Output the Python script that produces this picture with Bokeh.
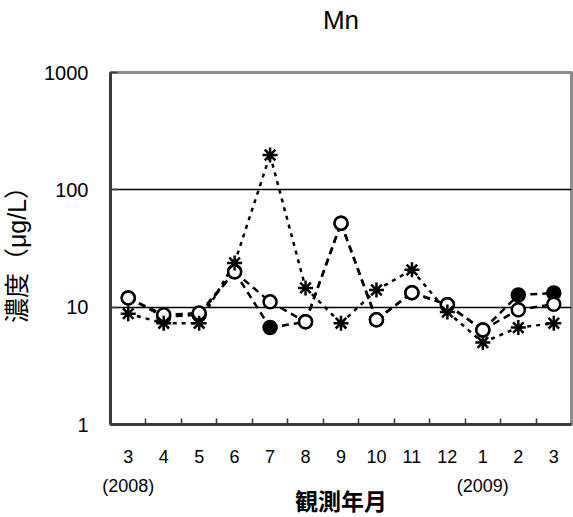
from bokeh.plotting import figure
from bokeh.models import Range1d, FixedTicker, LinearAxis
from bokeh.embed import file_html
from bokeh.resources import INLINE

# Observation months, March 2008 to March 2009
months = ["3", "4", "5", "6", "7", "8", "9", "10", "11", "12", "1", "2", "3"]
positions = list(range(1, len(months) + 1))
year_notes = {1: "(2008)", 11: "(2009)"}

# Mn concentration (µg/L) for the three monitoring series
mn_filled = [12.0, 8.3, 8.6, 20.0, 6.7, 7.5, 52.0, 7.8, 13.3, 10.5, 6.4, 12.7, 13.2]
mn_open = [12.0, 8.6, 8.9, 20.0, 11.1, 7.5, 52.0, 7.8, 13.3, 10.5, 6.4, 9.5, 10.6]
mn_star = [8.8, 7.3, 7.3, 23.8, 198.0, 14.6, 7.3, 14.0, 20.8, 9.1, 5.0, 6.7, 7.3]

y_ticks = [1, 10, 100, 1000]

LATIN = "Liberation Sans"
MIXED = "Liberation Sans, Noto Sans CJK JP"

p = figure(
    width=573, height=517,
    y_axis_type="log",
    x_range=Range1d(0.5, len(months) + 0.5),
    y_range=Range1d(1, 1000),
    output_backend="svg", toolbar_location=None,
    min_border_left=107, min_border_right=2,
    min_border_top=72, min_border_bottom=92,
)
p.background_fill_color = "white"
p.border_fill_color = "white"
p.outline_line_color = "#8c8c8c"
p.outline_line_width = 3

# the figure's own bottom axis carries the months
xa = p.below[0]

# chart heading, set as the label of a bare axis along the top edge
heading = LinearAxis(
    ticker=FixedTicker(ticks=[]),
    axis_line_color=None,
    major_tick_line_color=None, minor_tick_line_color=None,
    major_tick_in=0, major_tick_out=0, minor_tick_in=0, minor_tick_out=0,
    major_label_standoff=0,
    axis_label="Mn",
    axis_label_text_font=LATIN,
    axis_label_text_font_size="26px",
    axis_label_text_font_style="normal",
    axis_label_text_color="black",
    axis_label_standoff=38,
)
p.add_layout(heading, "above")

# grid lines only at 10 and 100
p.xgrid.visible = False
p.ygrid.ticker = FixedTicker(ticks=[10, 100])
p.ygrid.grid_line_color = "black"
p.ygrid.grid_line_width = 1.5

# x axis: month labels at centres, inward ticks on the month boundaries
xa.ticker = FixedTicker(ticks=positions,
                        minor_ticks=[i + 0.5 for i in positions[:-1]])
xa.major_label_overrides = {i: m for i, m in zip(positions, months)}
xa.major_tick_line_color = None
xa.major_tick_in = 0
xa.major_tick_out = 0
xa.minor_tick_in = 6
xa.minor_tick_out = 0
xa.minor_tick_line_width = 1.5
xa.minor_tick_line_color = "#333333"
xa.axis_line_color = "#3a3a3a"
xa.axis_line_width = 3
xa.major_label_text_font = LATIN
xa.major_label_text_font_size = "18px"
xa.major_label_text_color = "black"
xa.major_label_standoff = 25

# second row under the months: year notes and the axis title
xa2 = LinearAxis(
    ticker=FixedTicker(ticks=list(year_notes.keys())),
    major_label_overrides=year_notes,
    axis_line_color=None,
    major_tick_line_color=None,
    minor_tick_line_color=None,
    major_tick_in=0, major_tick_out=0,
    minor_tick_in=0, minor_tick_out=0,
    major_label_text_font=LATIN,
    major_label_text_font_size="18px",
    major_label_text_color="black",
    major_label_standoff=10,
    axis_label="観測年月",
    axis_label_text_font=MIXED,
    axis_label_text_font_size="23px",
    axis_label_text_font_style="bold",
    axis_label_text_color="black",
    axis_label_standoff=-10,
)
p.add_layout(xa2, "below")

# y axis: log scale 1..1000
ya = p.left[0]
ya.ticker = FixedTicker(ticks=y_ticks)
ya.major_label_overrides = {t: str(t) for t in y_ticks}
ya.major_tick_in = 7
ya.major_tick_out = 0
ya.major_tick_line_width = 1.5
ya.major_tick_line_color = "#3a3a3a"
ya.minor_tick_line_color = None
ya.axis_line_color = "#3a3a3a"
ya.axis_line_width = 3
ya.major_label_text_font = LATIN
ya.major_label_text_font_size = "20px"
ya.major_label_text_color = "black"
ya.major_label_standoff = 22
ya.axis_label = "濃度（μg/L）"
ya.axis_label_text_font = MIXED
ya.axis_label_text_font_size = "25px"
ya.axis_label_text_font_style = "normal"
ya.axis_label_text_color = "black"
ya.axis_label_standoff = 10


def segments(vals):
    """Split a series into consecutive month-to-month segments."""
    return (positions[:-1], vals[:-1], positions[1:], vals[1:])


# connecting lines, drawn per segment so coinciding stretches share dash phase
for vals, dash in [(mn_filled, "7 5"), (mn_open, "7 5"), (mn_star, "4 5")]:
    x0, y0, x1, y1 = segments(vals)
    p.segment(x0=x0, y0=y0, x1=x1, y1=y1, line_color="black",
              line_width=2.5, line_dash=dash)

# markers
p.scatter(positions, mn_filled, marker="circle", size=13,
          fill_color="black", line_color="black", line_width=2.5)
p.scatter(positions, mn_open, marker="circle", size=13,
          fill_color="white", line_color="black", line_width=2.5)
p.scatter(positions, mn_star, marker="asterisk", size=15,
          line_color="black", line_width=2.5)

open("out.html", "w").write(file_html(p, INLINE))
